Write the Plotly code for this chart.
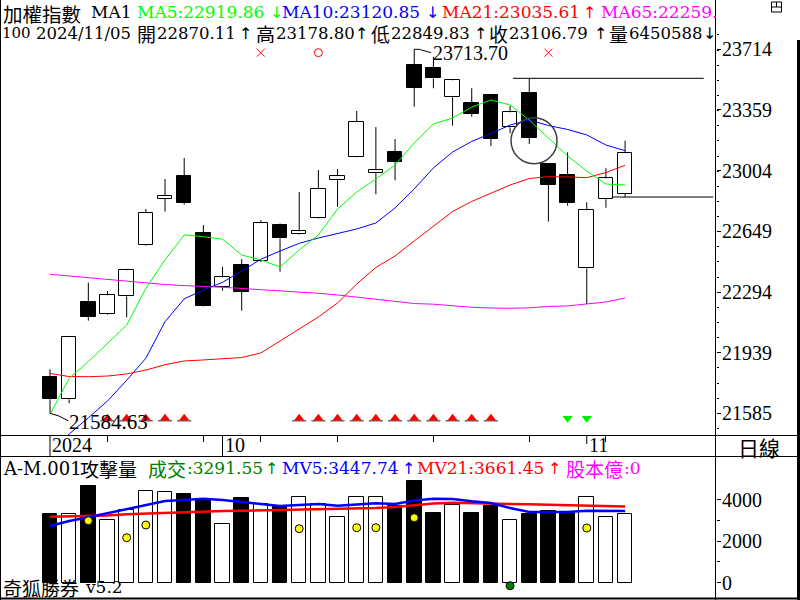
import datetime as dt
import plotly.graph_objects as go

# ---------------- data ----------------
dates = ["2024-09-18", "2024-09-19", "2024-09-20", "2024-09-23", "2024-09-24", "2024-09-25",
         "2024-09-26", "2024-09-27", "2024-09-30", "2024-10-01", "2024-10-04", "2024-10-07",
         "2024-10-08", "2024-10-09", "2024-10-11", "2024-10-14", "2024-10-15", "2024-10-16",
         "2024-10-17", "2024-10-18", "2024-10-21", "2024-10-22", "2024-10-23", "2024-10-24",
         "2024-10-25", "2024-10-28", "2024-10-29", "2024-10-30", "2024-11-01", "2024-11-04",
         "2024-11-05"]
opens = [21796, 21667, 22236, 22164, 22269, 22569, 22840, 22973, 22639, 22325, 22452, 22476,
         22686, 22634, 22725, 22948, 23082, 22989, 23111, 23622, 23603, 23433, 23400, 23446,
         23258, 23460, 23043, 22979, 22433, 22837, 22870.11]
highs = [21842, 22035, 22349, 22300, 22430, 22780, 22955, 23078, 22686, 22441, 22486, 22715,
         22695, 22879, 23008, 23014, 23353, 23259, 23189, 23713.70, 23670, 23536, 23486, 23450,
         23382, 23544, 23045, 23111, 22819, 23018, 23178.80]
lows = [21584.63, 21644, 22127, 22160, 22146, 22565, 22764, 22805, 22210, 22302, 22185, 22470,
        22413, 22630, 22722, 22793, 23080, 22866, 22948, 23378, 23486, 23267, 23320, 23148,
        23223, 23160, 22706, 22799, 22224, 22787, 22849.83]
closes = [21667, 22030, 22150, 22275, 22421, 22756, 22856, 22815, 22214, 22380, 22296, 22698,
          22608, 22649, 22895, 22973, 23289, 23008, 23053, 23489, 23544, 23532, 23337, 23191,
          23345, 23197, 22920, 22817, 22772, 22959, 23106.79]
ma5 = [21579, 21790, 21887, 21994, 22101, 22316, 22482, 22628, 22618, 22603, 22511, 22482,
       22441, 22540, 22628, 22780, 22879, 22955, 23037, 23166, 23277, 23312, 23376, 23417,
       23388, 23300, 23195, 23090, 23002, 22926, 22919.86]
ma10 = [21359, 21464, 21559, 21657, 21778, 21907, 22121, 22254, 22306, 22351, 22417, 22486,
        22534, 22579, 22610, 22637, 22663, 22698, 22786, 22897, 23020, 23113, 23175, 23221,
        23271, 23300, 23268, 23245, 23213, 23154, 23120.85]
ma21 = [21818, 21800, 21799, 21803, 21815, 21838, 21869, 21891, 21897, 21903, 21911, 21938,
        22008, 22075, 22148, 22230, 22341, 22438, 22505, 22593, 22680, 22765, 22824, 22873,
        22920, 22958, 22969, 22967, 22963, 22993, 23035.61]
ma65 = [22398, 22388, 22379, 22370, 22359, 22347, 22338, 22332, 22328, 22322, 22315, 22309,
        22303, 22296, 22287, 22277, 22265, 22255, 22239, 22227, 22223, 22213, 22205, 22201,
        22199, 22202, 22210, 22213, 22224, 22236, 22259]
volume = [3306, 3306, 4653, 3017, 3499, 4413, 4365, 4268, 3946, 2810, 4076, 3787, 3691, 4110,
          3787, 3147, 4110, 4110, 3691, 4894, 3359, 3725, 3354, 3691, 3017, 3306, 3436, 3340,
          4110, 3147, 3291.55]
mv5 = [2729, 2969, 3147, 3340, 3532, 3739, 3932, 3980, 4042, 3980, 3898, 3787, 3691, 3725,
       3787, 3705, 3763, 3821, 3787, 3956, 4038, 4028, 3917, 3835, 3595, 3402, 3402, 3402,
       3465, 3465, 3447.74]
mv21 = [3176, 3186, 3210, 3234, 3292, 3330, 3354, 3378, 3417, 3450, 3465, 3484, 3499, 3523,
        3532, 3547, 3571, 3595, 3643, 3715, 3811, 3845, 3835, 3821, 3797, 3773, 3749, 3725,
        3691, 3677, 3661.45]
buy_signals = [3, 4, 5, 6, 7, 13, 14, 15, 16, 17, 18, 19, 20, 21, 22, 23]
sell_signals = [27, 28]
cross_marks = [11, 26]
circle_marks = [14]
yellow_dot_idx = [2, 4, 5, 13, 16, 17, 19, 28]
yellow_dot_val = [2984, 2166, 2777, 2599, 2647, 2647, 3128, 2632]
green_dot_idx = [24]
green_dot_val = [-144]
price_ticks = [21585, 21939, 22294, 22649, 23004, 23359, 23714]
vol_ticks = [0, 2000, 4000]

# ---------------- styling ----------------
W, H = 800, 600
SERIF = "DejaVu Serif, Noto Sans CJK TC"
LSERIF = "Liberation Serif, Noto Sans CJK TC"
CJK = "Noto Sans CJK TC"
ARROWF = "DejaVu Sans"
GREEN, BLUE, RED, MAG = "#00ff00", "#0000ff", "#ff0000", "#ff00ff"
DKGREEN = "#008000"
XRANGE = [-2.608, 34.742]
PLOT_R = 716 / W

n = len(dates)
idx = list(range(n))
dparsed = [dt.date.fromisoformat(d) for d in dates]
up = [closes[i] >= opens[i] for i in idx]

fig = go.Figure()

# wicks (split so they never cross a body)
wx, wy = [], []
for i in idx:
    top, bot = max(opens[i], closes[i]), min(opens[i], closes[i])
    if highs[i] > top:
        wx += [i, i, None]; wy += [top, highs[i], None]
    if lows[i] < bot:
        wx += [i, i, None]; wy += [lows[i], bot, None]
fig.add_trace(go.Scatter(x=wx, y=wy, mode="lines", line=dict(color="black", width=1),
                         hoverinfo="skip", xaxis="x", yaxis="y"))

# bodies
fig.add_trace(go.Bar(x=idx, y=[abs(closes[i] - opens[i]) for i in idx],
                     base=[min(opens[i], closes[i]) for i in idx], width=0.76,
                     marker=dict(color=["white" if u else "black" for u in up],
                                 line=dict(color="black", width=1)),
                     xaxis="x", yaxis="y"))

for arr, col in [(ma65, MAG), (ma21, RED), (ma10, BLUE), (ma5, GREEN)]:
    fig.add_trace(go.Scatter(x=idx, y=arr, mode="lines", line=dict(color=col, width=1),
                             xaxis="x", yaxis="y"))

# signals
PX = 19.17          # pixels per candle
PP = 5.848          # price points per pixel
BUY_LEVEL, TOP_LEVEL = 21556, 23694
fig.add_trace(go.Scatter(x=buy_signals, y=[BUY_LEVEL - 2.6 * PP] * len(buy_signals),
                         mode="markers",
                         marker=dict(symbol="line-ew", size=10, line=dict(color="#202020", width=1)),
                         xaxis="x", yaxis="y"))
fig.add_trace(go.Scatter(x=buy_signals, y=[BUY_LEVEL] * len(buy_signals), mode="markers",
                         marker=dict(symbol="triangle-up", size=9, color="#ff0000",
                                     line=dict(width=0)), xaxis="x", yaxis="y"))
fig.add_trace(go.Scatter(x=sell_signals, y=[BUY_LEVEL] * len(sell_signals), mode="markers",
                         marker=dict(symbol="triangle-down", size=9, color="#00ee00",
                                     line=dict(width=0)), xaxis="x", yaxis="y"))
fig.add_trace(go.Scatter(x=cross_marks, y=[TOP_LEVEL] * len(cross_marks), mode="markers",
                         marker=dict(symbol="x-thin", size=8, line=dict(color="#ff0000", width=1)),
                         xaxis="x", yaxis="y"))
fig.add_trace(go.Scatter(x=circle_marks, y=[TOP_LEVEL] * len(circle_marks), mode="markers",
                         marker=dict(symbol="circle-open", size=8, color="#ff0000",
                                     line=dict(color="#ff0000", width=1)), xaxis="x", yaxis="y"))

# leader lines for high / low labels
hi_i = highs.index(max(highs))
lo_i = lows.index(min(lows))
fig.add_trace(go.Scatter(x=[hi_i, hi_i + 5 / PX, hi_i + 16.7 / PX],
                         y=[highs[hi_i], highs[hi_i], highs[hi_i] - 3.4 * PP],
                         mode="lines", line=dict(color="black", width=1), xaxis="x", yaxis="y"))
fig.add_trace(go.Scatter(x=[lo_i, lo_i + 8.3 / PX, lo_i + 18.3 / PX],
                         y=[lows[lo_i], lows[lo_i] - 2.4 * PP, lows[lo_i] - 7.4 * PP],
                         mode="lines", line=dict(color="black", width=1), xaxis="x", yaxis="y"))

# volume
fig.add_trace(go.Bar(x=idx, y=volume, width=0.76,
                     marker=dict(color=["white" if u else "black" for u in up],
                                 line=dict(color="black", width=1)),
                     xaxis="x2", yaxis="y2"))
fig.add_trace(go.Scatter(x=idx, y=mv21, mode="lines", line=dict(color="#ff0000", width=2.5),
                         xaxis="x2", yaxis="y2"))
fig.add_trace(go.Scatter(x=idx, y=mv5, mode="lines", line=dict(color="#0000ff", width=2.5),
                         xaxis="x2", yaxis="y2"))
fig.add_trace(go.Scatter(x=yellow_dot_idx, y=yellow_dot_val, mode="markers",
                         marker=dict(size=8, color="#ffff00", line=dict(color="black", width=1)),
                         xaxis="x2", yaxis="y2"))
fig.add_trace(go.Scatter(x=green_dot_idx, y=green_dot_val, mode="markers",
                         marker=dict(size=8, color="#008000", line=dict(color="black", width=1)),
                         xaxis="x2", yaxis="y2"))

# ---------------- axes ----------------
week_ticks = [i for i in range(1, n) if dparsed[i].weekday() < dparsed[i - 1].weekday()]
month_starts = [0] + [i for i in range(1, n) if dparsed[i].month != dparsed[i - 1].month]
step = (price_ticks[1] - price_ticks[0]) / 4
price_minor = [price_ticks[0] + step * k for k in range(-1, 4 * (len(price_ticks) - 1) + 2)]

fig.update_layout(
    width=W, height=H, margin=dict(l=0, r=0, t=0, b=0), template="none",
    paper_bgcolor="white", plot_bgcolor="white", showlegend=False,
    font=dict(family=LSERIF, size=20, color="black"), bargap=0,
    xaxis=dict(domain=[0, PLOT_R], range=XRANGE, anchor="y", showgrid=False, zeroline=False,
               showline=False, ticks="outside", ticklen=6, tickwidth=1, tickcolor="black",
               tickvals=week_ticks, showticklabels=False, automargin=False),
    yaxis=dict(domain=[1 - 435 / H, 1], range=[21458.1, 24002.0], anchor="x", side="right",
               showgrid=False, zeroline=False, showline=False, ticks="outside", ticklen=4,
               tickcolor="black", tickvals=price_ticks, ticktext=[str(v) for v in price_ticks],
               tickfont=dict(family=LSERIF, size=20, color="black"), automargin=False,
               ticklabelstandoff=-3,
               minor=dict(tickvals=price_minor, ticks="outside", ticklen=2, tickcolor="black")),
    xaxis2=dict(domain=[0, PLOT_R], range=XRANGE, anchor="y2", showgrid=False, zeroline=False,
                showline=False, ticks="", showticklabels=False, automargin=False),
    yaxis2=dict(domain=[2 / H, 143 / H], range=[-736, 6049], anchor="x2", side="right",
                showgrid=False, zeroline=False, showline=False, ticks="outside", ticklen=4,
                tickcolor="black", tickvals=vol_ticks, ticktext=[str(v) for v in vol_ticks],
                tickfont=dict(family=LSERIF, size=20, color="black"), automargin=False,
                ticklabelstandoff=-3,
                minor=dict(tickvals=[1000, 3000], ticks="outside", ticklen=3, tickcolor="black")),
)

# ---------------- frame lines / shapes ----------------
shapes = []
def pline(x0, y0, x1, y1, w=1, color="black"):
    shapes.append(dict(type="line", xref="paper", yref="paper", x0=x0 / W, x1=x1 / W,
                       y0=1 - y0 / H, y1=1 - y1 / H, line=dict(color=color, width=w)))

pline(0.5, 0, 0.5, 600)
pline(715.5, 0, 715.5, 600)
pline(0, 435.5, 800, 435.5)
pline(0, 456.5, 800, 456.5)
pline(0, 598.5, 800, 598.5, w=2)
pline(798.5, 40, 798.5, 600, w=3)
# window icon
shapes.append(dict(type="rect", xref="paper", yref="paper", x0=771.5 / W, x1=781.5 / W,
                   y0=1 - 12 / H, y1=1 - 2 / H, line=dict(color="black", width=1)))
pline(771.5, 7, 781.5, 7)
pline(776.5, 2, 776.5, 7)

# month boundary lines in the date strip
for k, i in enumerate(month_starts):
    bottom = 456 if k < 2 else 444
    shapes.append(dict(type="line", xref="x", yref="paper", x0=i, x1=i,
                       y0=1 - 436 / H, y1=1 - bottom / H, line=dict(color="black", width=1)))

# resistance / support lines and highlight circle
r_i = 25
shapes.append(dict(type="line", xref="x", yref="y", x0=r_i - 0.85, x1=34.1,
                   y0=highs[r_i], y1=highs[r_i], line=dict(color="black", width=1)))
s_i = n - 1
shapes.append(dict(type="line", xref="x", yref="y", x0=s_i - 0.7, x1=34.6,
                   y0=lows[s_i], y1=lows[s_i], line=dict(color="black", width=1)))
cy = (closes[r_i] + lows[r_i]) / 2
shapes.append(dict(type="circle", xref="x", yref="y", x0=r_i + 0.25 - 1.2, x1=r_i + 0.25 + 1.2,
                   y0=cy - 23 * PP, y1=cy + 23 * PP, line=dict(color="#404040", width=1.5)))
fig.update_layout(shapes=shapes)

# ---------------- texts ----------------
ann = []
def txt(x, y, s, color="black", size=17, family=SERIF, anchor="left"):
    ann.append(dict(x=x / W, y=1 - y / H, xref="paper", yref="paper", text=s, showarrow=False,
                    xanchor=anchor, yanchor="middle", borderpad=0,
                    font=dict(family=family, size=size, color=color)))

def arrow(cx, y, s, color="black"):
    txt(cx, y, s, color, size=16, family=ARROWF, anchor="center")

# header line 1
Y1, Y2 = 12, 33
txt(2, 14, "加權指數", size=19.5, family=CJK)
txt(90, Y1, "MA1")
txt(136, Y1, "MA5:22919.86", GREEN)
arrow(276.5, Y1, "↓", GREEN)
txt(281, Y1, "MA10:23120.85", BLUE)
arrow(432.5, Y1, "↓", BLUE)
txt(441, Y1, "MA21:23035.61", RED)
arrow(589, Y1, "↑", RED)
txt(600, Y1, "MA65:22259.", MAG)
# header line 2
last = n - 1
d = dparsed[last]
txt(1, Y2, "100", size=15)
txt(35, Y2, f"{d.year}/{d.month:02d}/{d.day:02d}", size=16.5)
segs = [(136, "開", opens[last], 245, "↑"), (255, "高", highs[last], 361.5, "↑"),
        (370, "低", lows[last], 480, "↑"), (488, "收", closes[last], 600, "↑")]
for x0, lab, val, ax, arr in segs:
    txt(x0, Y2, lab, size=19, family=CJK)
    txt(x0 + 20, Y2, f"{val:.2f}", size=16.5)
    arrow(ax, Y2, arr)
txt(608, Y2, "量", size=19, family=CJK)
txt(628, Y2, "6450588", size=16.5)
arrow(709, Y2, "↓")

# volume header
YV = 468
txt(2, YV, "A-M.001", size=18)
txt(79, YV, "攻擊量", size=19, family=CJK)
txt(147, YV, "成交", DKGREEN, size=19, family=CJK)
txt(186, YV, f":{volume[last]:.2f}", DKGREEN)
arrow(271, YV, "↑", DKGREEN)
txt(281, YV, f"MV5:{mv5[last]:.2f}", BLUE)
arrow(408.5, YV, "↑", BLUE)
txt(416, YV, f"MV21:{mv21[last]:.2f}", RED)
arrow(554, YV, "↑", RED)
txt(565, YV, "股本億", MAG, size=19, family=CJK)
txt(623, YV, ":0", MAG)

# footer / right panel
txt(2, 587, "奇狐勝券", size=19, family=CJK)
txt(84, 587, "v5.2")
txt(737, 447, "日線", size=21, family=CJK)

# date labels
for k, i in enumerate(month_starts):
    lab = str(dparsed[i].year) if k == 0 else str(dparsed[i].month)
    ann.append(dict(x=i, y=1 - 445 / H, xref="x", yref="paper", text=lab, showarrow=False,
                    xanchor="left", yanchor="middle", xshift=1, borderpad=0,
                    font=dict(family=LSERIF, size=20, color="black")))

# extreme value labels
ann.append(dict(x=hi_i, y=highs[hi_i], xref="x", yref="y", text=f"{highs[hi_i]:.2f}",
                showarrow=False, xanchor="left", yanchor="middle", xshift=18, yshift=-4,
                borderpad=0, font=dict(family=LSERIF, size=20, color="black")))
ann.append(dict(x=lo_i, y=lows[lo_i], xref="x", yref="y", text=f"{lows[lo_i]:.2f}",
                showarrow=False, xanchor="left", yanchor="middle", xshift=18, yshift=-9,
                borderpad=0, font=dict(family=LSERIF, size=21, color="black")))

fig.update_layout(annotations=ann)
fig.write_html("out.html")
